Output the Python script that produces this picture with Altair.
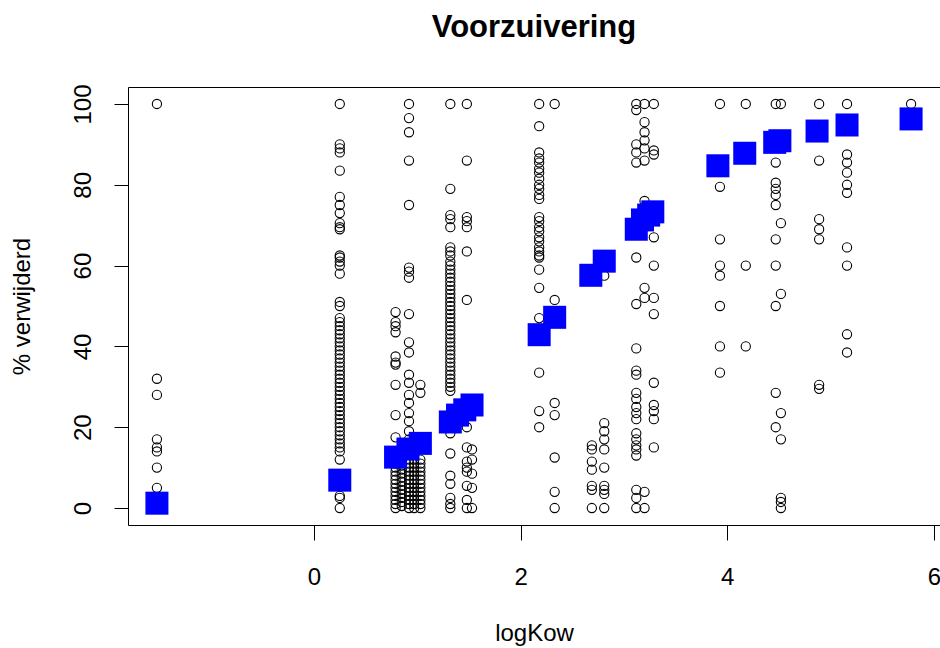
import altair as alt
import pandas as pd

# ---- text ----
main_title = "Voorzuivering"
x_title = "logKow"
y_title = "% verwijderd"
x_ticks = [0, 2, 4, 6]
y_ticks = [0, 20, 40, 60, 80, 100]

# ---- observations: logKow position of each column, and its % removed values ----
col_x = [-1.52, 0.25, 0.79, 0.85, 0.92, 0.97, 1.03, 1.32, 1.48, 1.53, 2.18, 2.33, 2.69,
         2.81, 3.12, 3.20, 3.29, 3.93, 4.18, 4.47, 4.52, 4.89, 5.16, 5.78]

col_a = [100, 32, 28, 17, 15, 14, 10, 5, 0]
col_b = [100, 90, 89, 88, 83.5, 77, 75, 73, 70.5, 69.5, 69, 62.5, 62, 61, 60, 58, 51, 50,
         47, 46, 45, 44, 43, 42, 41, 40, 39, 38, 37, 36, 35, 34, 33, 32, 31, 30, 29, 28,
         27, 26, 25, 24, 23, 22, 21, 20, 19, 18, 17, 16, 15, 14, 12, 3, 2.5, 0]
col_c = [48.5, 46, 45, 43.5, 37.5, 36, 35.5, 30.5, 23, 17.5, 12, 11, 10, 9, 8, 7, 6, 5,
         4, 3, 2, 1, 0]
col_c2 = [11.5, 10.5, 9.5, 8.5, 7.5, 6.5, 5.5, 4.5, 3.5, 2.5, 1.5, 0.5]
col_d = [100, 96.5, 93, 86, 75, 59.5, 58.5, 57, 48, 41, 38.5, 33, 31, 28, 26, 23.5, 21.5,
         19, 17, 15, 12, 11, 10, 9, 8, 7, 6, 5, 4, 3, 2, 1, 0]
col_e = [12, 11, 10, 9, 8, 7, 6, 5, 4, 3, 2, 1, 0]
col_f = [30.5, 28.5, 12, 11, 10, 9, 8, 7, 6, 5, 4, 3, 2, 1, 0]
col_g = [100, 79, 72.5, 71.5, 69.5, 64.5, 63.5, 62.5, 61, 60, 59, 58, 57, 56, 55, 54, 53,
         52, 51, 50, 49, 48, 47, 46, 45, 44, 43, 42, 41, 40, 39, 38, 37, 36, 35, 34, 33,
         32, 31, 30, 29, 18.5, 13.5, 8, 6, 2.5, 1, 0]
col_h = [100, 86, 72, 71, 69.5, 63.5, 51.5, 20, 15, 11.5, 10, 9, 5.5, 2, 0]
col_i = [14.5, 12, 8.5, 5, 0]
col_j = [100, 94.5, 88, 86.5, 85.5, 84, 83, 81.5, 80, 79, 77.5, 76.5, 72, 71, 69.5, 68.5,
         67, 66, 64.5, 63.5, 62.5, 62, 59, 54.5, 47, 33.5, 24, 20]
col_k = [100, 51.5, 26, 23, 12.5, 4, 0]
col_l = [15.5, 14.5, 11.5, 9.5, 5.5, 4.5, 0]
col_m = [57.5, 21, 19, 17, 14.5, 10, 5.5, 4.5, 3.5, 0]
col_n = [100, 98.5, 90, 88, 85.5, 62, 50.5, 39.5, 34, 33, 28.5, 27, 25, 23.5, 22, 18.5,
         17, 15.5, 14.5, 13, 4.5, 2.5, 0]
col_o = [100, 95.5, 93, 91, 89, 86, 76, 54.5, 52, 4, 0]
col_p = [100, 88.5, 87.5, 67, 60, 52, 48, 31, 25.5, 24, 22, 15]
col_q = [100, 79.5, 66.5, 60, 57.5, 50, 40, 33.5]
col_r = [100, 60, 40]
col_s = [100, 85.5, 80.5, 79, 77.5, 75, 66.5, 60, 50, 28.5, 20]
col_t = [100, 70.5, 53, 23.5, 17, 2.5, 1.5, 0]
col_u = [100, 86, 71.5, 69, 66.5, 30.5, 29.5]
col_v = [100, 87.5, 85.5, 83, 80, 78, 64.5, 60, 43, 38.5]
col_w = [100]

col_values = [col_a, col_b, col_c, col_c2, col_d, col_e, col_f, col_g, col_h, col_i, col_j,
              col_k, col_l, col_m, col_n, col_o, col_p, col_q, col_r, col_s, col_t, col_u,
              col_v, col_w]

# ---- blue squares (group means) ----
mean_x = [-1.52, 0.25, 0.79, 0.91, 1.03, 1.32, 1.39, 1.46, 1.53, 2.18, 2.33, 2.68, 2.81,
          3.12, 3.18, 3.24, 3.28, 3.91, 4.17, 4.46, 4.51, 4.87, 5.16, 5.78]
mean_y = [1.2, 6.9, 12.6, 14.6, 16.0, 21.3, 23.0, 24.3, 25.5, 42.9, 47.2, 57.6, 61.1,
          69.0, 71.3, 72.5, 73.3, 84.7, 87.8, 90.5, 90.9, 93.3, 94.8, 96.3]

rows = []
for xv, vals in zip(col_x, col_values):
    for v in vals:
        rows.append({"logKow": xv, "pct": v})
obs = pd.DataFrame(rows)
means = pd.DataFrame({"logKow": mean_x, "pct": mean_y})

FONT = "Liberation Sans"
W, H = 812, 438

xscale = alt.Scale(domain=[-1.8, 6.06], nice=False, zero=False)
yscale = alt.Scale(domain=[-4.2, 104.2], nice=False, zero=False)

xaxis = alt.Axis(values=x_ticks, format="d", title=x_title, grid=False, domain=False,
                 tickSize=15, tickColor="black", tickWidth=1,
                 labelFont=FONT, labelFontSize=24, labelColor="black",
                 labelPadding=25, labelBaseline="top", labelFlush=False, labelOverlap=False,
                 titleFont=FONT, titleFontSize=24, titleFontWeight="normal", titleColor="black",
                 titleX=W / 2, titleY=108, titleAlign="center", titleBaseline="middle")
yaxis = alt.Axis(values=y_ticks, format="d", title=y_title, grid=False, domain=False,
                 tickSize=14, tickColor="black", tickWidth=1,
                 labelFont=FONT, labelFontSize=24, labelColor="black",
                 labelAngle=270, labelAlign="center", labelBaseline="alphabetic",
                 labelPadding=24, labelFlush=False, labelOverlap=False,
                 titleFont=FONT, titleFontSize=24, titleFontWeight="normal", titleColor="black",
                 titleAngle=270, titleX=-106, titleY=H / 2, titleAlign="center",
                 titleBaseline="middle")

points = alt.Chart(obs).mark_point(shape="circle", filled=False, stroke="black",
                                   strokeWidth=1.1, size=85, opacity=1).encode(
    x=alt.X("logKow:Q", scale=xscale, axis=xaxis),
    y=alt.Y("pct:Q", scale=yscale, axis=yaxis),
)
squares = alt.Chart(means).mark_point(shape="square", filled=True, color="#0000FF",
                                      size=530, opacity=1).encode(
    x=alt.X("logKow:Q", scale=xscale),
    y=alt.Y("pct:Q", scale=yscale),
)

chart = alt.layer(points, squares).properties(
    width=W, height=H,
    title=alt.TitleParams(main_title, font=FONT, fontSize=31, fontWeight="bold",
                          color="black", anchor="middle", baseline="alphabetic", offset=16),
    autosize=alt.AutoSizeParams(type="none"),
    padding={"left": 128, "top": 87, "right": 0, "bottom": 123},
).configure(background="white").configure_view(stroke="black", strokeWidth=1)

chart.save("out.html", embed_options={"renderer": "svg", "actions": False})
